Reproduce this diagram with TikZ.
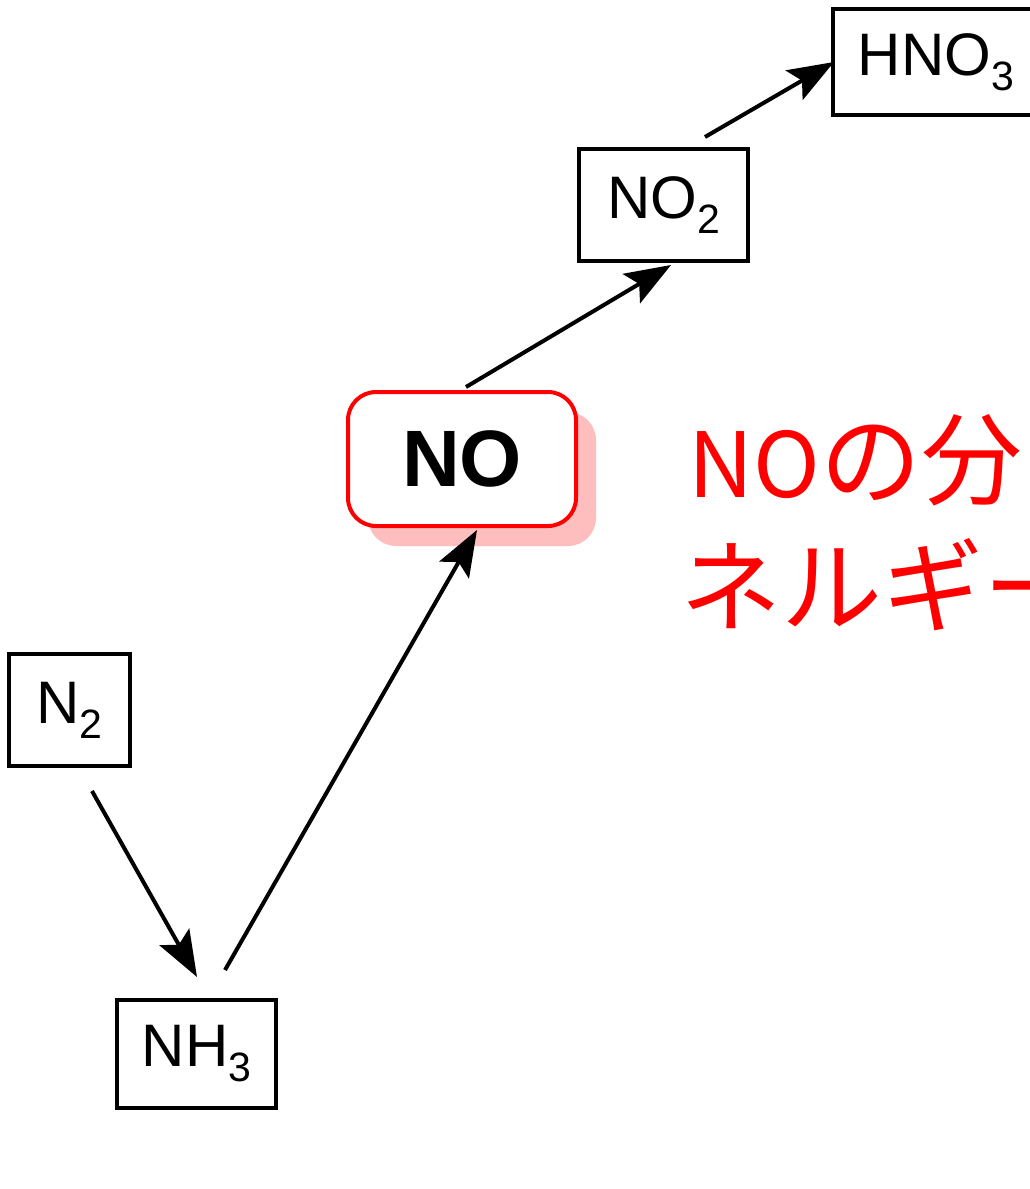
\documentclass[tikz,border=0pt]{standalone}
\usepackage{fontspec}
\setmainfont{Liberation Sans}
\newfontfamily\jpfont{Noto Sans CJK JP}
\usetikzlibrary{arrows.meta,shadows}
\definecolor{shadowpink}{RGB}{255,190,190}
\newcommand{\chsub}[1]{\raisebox{-0.25em}{\fontsize{41}{41}\selectfont #1}}
\newcommand{\kanasize}{\fontsize{101}{101}\selectfont}
\begin{document}
\begin{tikzpicture}
        [x=1pt, y=-1pt,
         chembox/.style={draw=black, line width=4pt, inner sep=0pt, outer sep=0pt,
                         font=\fontsize{60}{60}\selectfont},
         redtext/.style={anchor=base west, inner sep=0pt, text=red, font=\jpfont\fontsize{90}{90}\selectfont},
         arr/.style={line width=4pt, -{Stealth[length=46pt, width=34pt, inset=9pt]}}]
        \useasboundingbox (0,0) rectangle (1030,1189);
        \clip (0,0) rectangle (1030,1189);
        \node [chembox, minimum width=121pt, minimum height=112pt] (n2) at (69.5,710) {N\chsub{2}};
        \node [chembox, minimum width=159pt, minimum height=108pt] (nh3) at (196.5,1054) {NH\chsub{3}};
        \node [draw=red, line width=4pt, fill=white, rounded corners=28pt, inner sep=0pt, outer sep=0pt,
               minimum width=228pt, minimum height=134pt,
               drop shadow={shadow xshift=20pt, shadow yshift=-20pt, fill=shadowpink, opacity=1},
               font=\fontsize{80}{80}\selectfont\bfseries] (no) at (462,459) {NO};
        \node [chembox, minimum width=169pt, minimum height=112pt] (no2) at (663.5,205) {NO\chsub{2}};
        \node [chembox, minimum width=206pt, minimum height=106pt] (hno3) at (936,62) {HNO\chsub{3}};
        % text at the right, cut off by the page edge
        \node [redtext] (txta) at (688,497) {NO{\kanasize の分}};
        \node [redtext] (txtb) at (680,624) {\kanasize ネルギー};
        \draw [arr] ([shift={(22.5,25)}]n2.south) -- ([shift={(0.5,-23)}]nh3.north);
        \draw [arr] ([shift={(28.5,-30)}]nh3.north) -- ([shift={(15,4)}]no.south);
        \draw [arr] ([shift={(4,-5)}]no.north) -- ([shift={(7.5,4)}]no2.south);
        \draw [arr] ([shift={(41.5,-12)}]no2.north) -- ([shift={(1,0)}]hno3.west);
\end{tikzpicture}
\end{document}
